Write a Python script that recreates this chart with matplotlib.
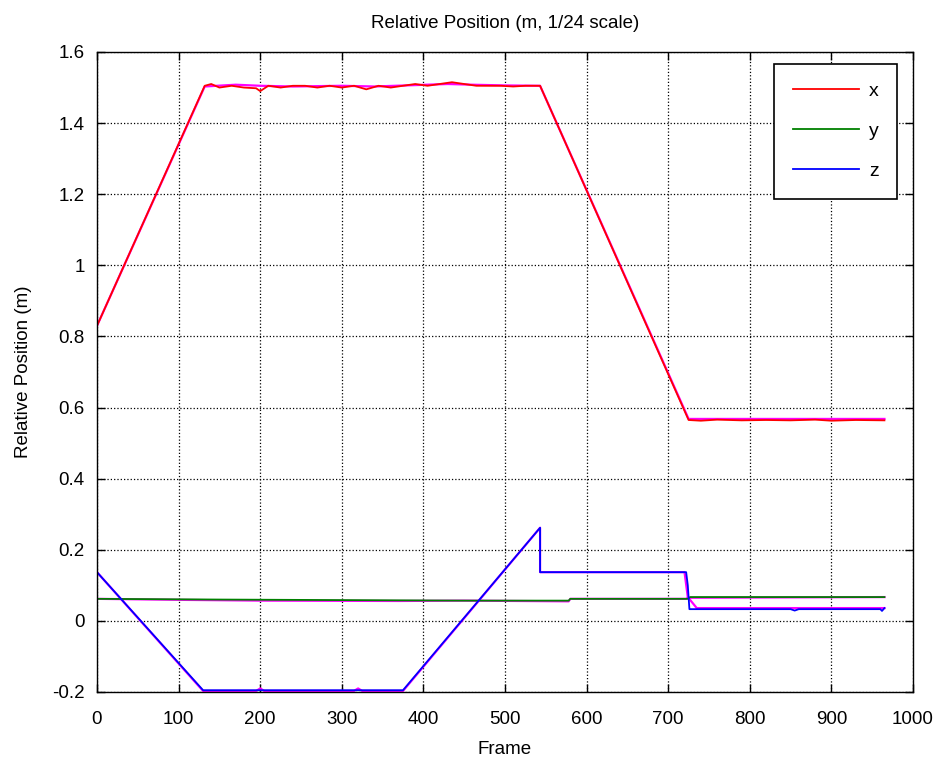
import matplotlib
matplotlib.use("Agg")
import matplotlib.pyplot as plt

# ---- data ----
x_frames = [0, 132, 140, 150, 165, 180, 195, 200, 210, 225, 240, 255, 270, 285, 300, 315,
            330, 345, 360, 375, 390, 405, 420, 435, 450, 465, 480, 495, 510, 525, 543,
            725, 740, 760, 790, 820, 850, 880, 900, 930, 965]
x_vals = [0.83, 1.505, 1.51, 1.50, 1.505, 1.50, 1.498, 1.49, 1.505, 1.50, 1.505, 1.505, 1.50,
          1.505, 1.50, 1.505, 1.495, 1.505, 1.50, 1.505, 1.51, 1.505, 1.51, 1.515, 1.51,
          1.505, 1.505, 1.505, 1.503, 1.505, 1.505,
          0.565, 0.563, 0.566, 0.564, 0.565, 0.564, 0.566, 0.563, 0.565, 0.564]

xm_frames = [0, 132, 170, 200, 240, 300, 340, 430, 460, 500, 543, 725, 965]
xm_vals = [0.83, 1.503, 1.508, 1.505, 1.503, 1.505, 1.503, 1.51, 1.508, 1.506, 1.505, 0.568, 0.568]

y_frames = [0, 150, 450, 578, 580, 724, 727, 965]
y_vals = [0.062, 0.060, 0.057, 0.057, 0.062, 0.062, 0.067, 0.067]

ym_frames = [0, 110, 200, 370, 450, 578, 580, 722, 724, 965]
ym_vals = [0.062, 0.059, 0.057, 0.056, 0.057, 0.055, 0.062, 0.062, 0.065, 0.067]

z_frames = [0, 130, 375, 543, 543, 722, 724, 726, 850, 855, 860, 960, 962, 965]
z_vals = [0.137, -0.195, -0.195, 0.262, 0.137, 0.137, 0.10, 0.033, 0.033, 0.029, 0.033,
          0.033, 0.028, 0.036]

zm_frames = [0, 130, 195, 200, 205, 315, 320, 325, 375, 543, 543, 720, 724, 735, 965]
zm_vals = [0.137, -0.197, -0.197, -0.19, -0.197, -0.197, -0.19, -0.197, -0.197, 0.262,
           0.137, 0.137, 0.067, 0.036, 0.036]

labels = ["x", "y", "z"]
x_ticks = [0, 100, 200, 300, 400, 500, 600, 700, 800, 900, 1000]
y_ticks = [-0.2, 0, 0.2, 0.4, 0.6, 0.8, 1.0, 1.2, 1.4, 1.6]
y_ticklabels = ["-0.2", "0", "0.2", "0.4", "0.6", "0.8", "1", "1.2", "1.4", "1.6"]

plt.rcParams['font.family'] = ['Liberation Sans', 'DejaVu Sans']
plt.rcParams['font.size'] = 13

fig = plt.figure(figsize=(9.44, 7.66), dpi=100)
ax = fig.add_axes([97/944, 1-692/766, (913-97)/944, (692-52)/766])

lw = 1.3
ax.plot(xm_frames, xm_vals, color='magenta', lw=lw + 0.3)
ax.plot(ym_frames, ym_vals, color='magenta', lw=lw + 0.3)
ax.plot(zm_frames, zm_vals, color='magenta', lw=lw + 0.3)
ax.plot(x_frames, x_vals, color='#ff0000', lw=lw, label=labels[0])
ax.plot(y_frames, y_vals, color='#008000', lw=lw, label=labels[1])
ax.plot(z_frames, z_vals, color='#0000ff', lw=lw, label=labels[2])

ax.set_xlim(0, 1000)
ax.set_ylim(-0.2, 1.6)
ax.set_xticks(x_ticks)
ax.set_yticks(y_ticks)
ax.set_yticklabels(y_ticklabels)
ax.grid(True, linestyle=':', color='black', linewidth=0.9)
ax.tick_params(axis='both', direction='in', top=True, right=True, length=6, width=1,
               labelsize=13.5)
ax.tick_params(axis='x', pad=14)
ax.tick_params(axis='y', pad=9)
for s in ax.spines.values():
    s.set_linewidth(1.0)
    s.set_color('black')

ax.set_title("Relative Position (m, 1/24 scale)", fontsize=13.5, pad=17)
ax.set_xlabel("Frame", fontsize=13.5, labelpad=9)
ax.set_ylabel("Relative Position (m)", fontsize=13.5, labelpad=14)

leg = ax.legend(loc='upper right', bbox_to_anchor=(1 - 16/816, 1 - 12/640), borderaxespad=0,
                fancybox=False, edgecolor='black', framealpha=1, fontsize=14,
                handlelength=3.4, labelspacing=1.15, borderpad=0.95, handletextpad=0.5)
leg.get_frame().set_linewidth(1.2)

fig.savefig("out.png", dpi=100)
